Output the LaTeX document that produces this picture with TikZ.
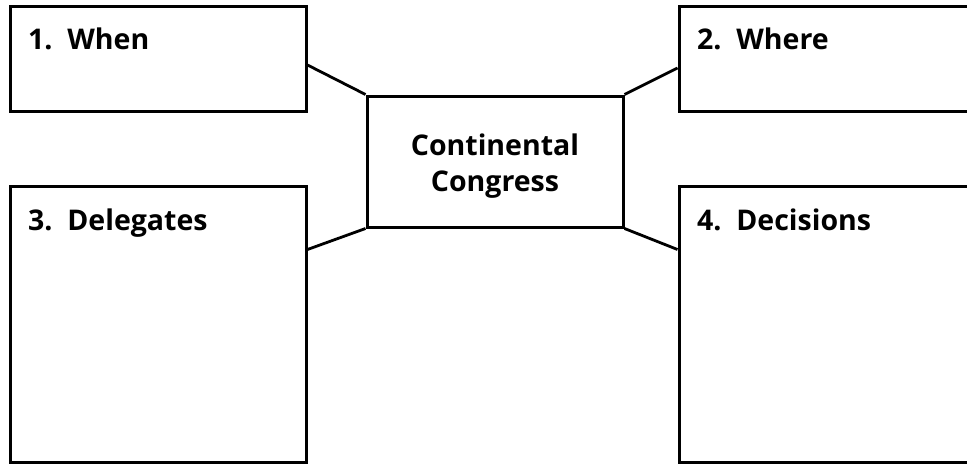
\documentclass[tikz,border=0pt]{standalone}
\usepackage{fontspec}
\setmainfont{Open Sans}[UprightFont=* Bold,Ligatures=NoCommon]
\begin{document}
\begin{tikzpicture}[x=1pt,y=-1pt,
  box/.style={draw=black,line width=3pt,rectangle,inner sep=0pt},
  lbl/.style={anchor=base west,font=\fontsize{28.5}{30}\selectfont,inner sep=0pt},
  conn/.style={draw=black,line width=2.8pt}]
\useasboundingbox (0,0) rectangle (967,464);
\clip (0,0) rectangle (967,464);
\fill[white] (0,0) rectangle (967,464);
% boxes
\node[box,minimum width=296pt,minimum height=105pt] (b1) at (158,58.5) {};
\node[box,minimum width=296pt,minimum height=105pt] (b2) at (827,58.5) {};
\node[box,minimum width=296pt,minimum height=276pt] (b3) at (158,324) {};
\node[box,minimum width=296pt,minimum height=276pt] (b4) at (827,324) {};
\node[box,minimum width=256pt,minimum height=131pt] (c) at (495,161.5) {};
% labels
\node[lbl] (t1) at (28,49) {1.\ \ When};
\node[lbl] (t2) at (697,49) {2.\ \ Where};
\node[lbl] (t3) at (28,230) {3.\ \ Delegates};
\node[lbl] (t4) at (697,230) {4.\ \ Decisions};
\node[font=\fontsize{28.5}{36}\selectfont,align=center,inner sep=0pt,anchor=base] (tc) at (495,191) {Continental\\Congress};
% connectors
\draw[conn] ([yshift=-6.5pt]b1.east) -- (c.north west);
\draw[conn] ([yshift=-9.5pt]b2.west) -- (c.north east);
\draw[conn] (c.south west) -- ([yshift=-65pt]b3.north east);
\draw[conn] (c.south east) -- ([yshift=-65pt]b4.north west);
\end{tikzpicture}
\end{document}
